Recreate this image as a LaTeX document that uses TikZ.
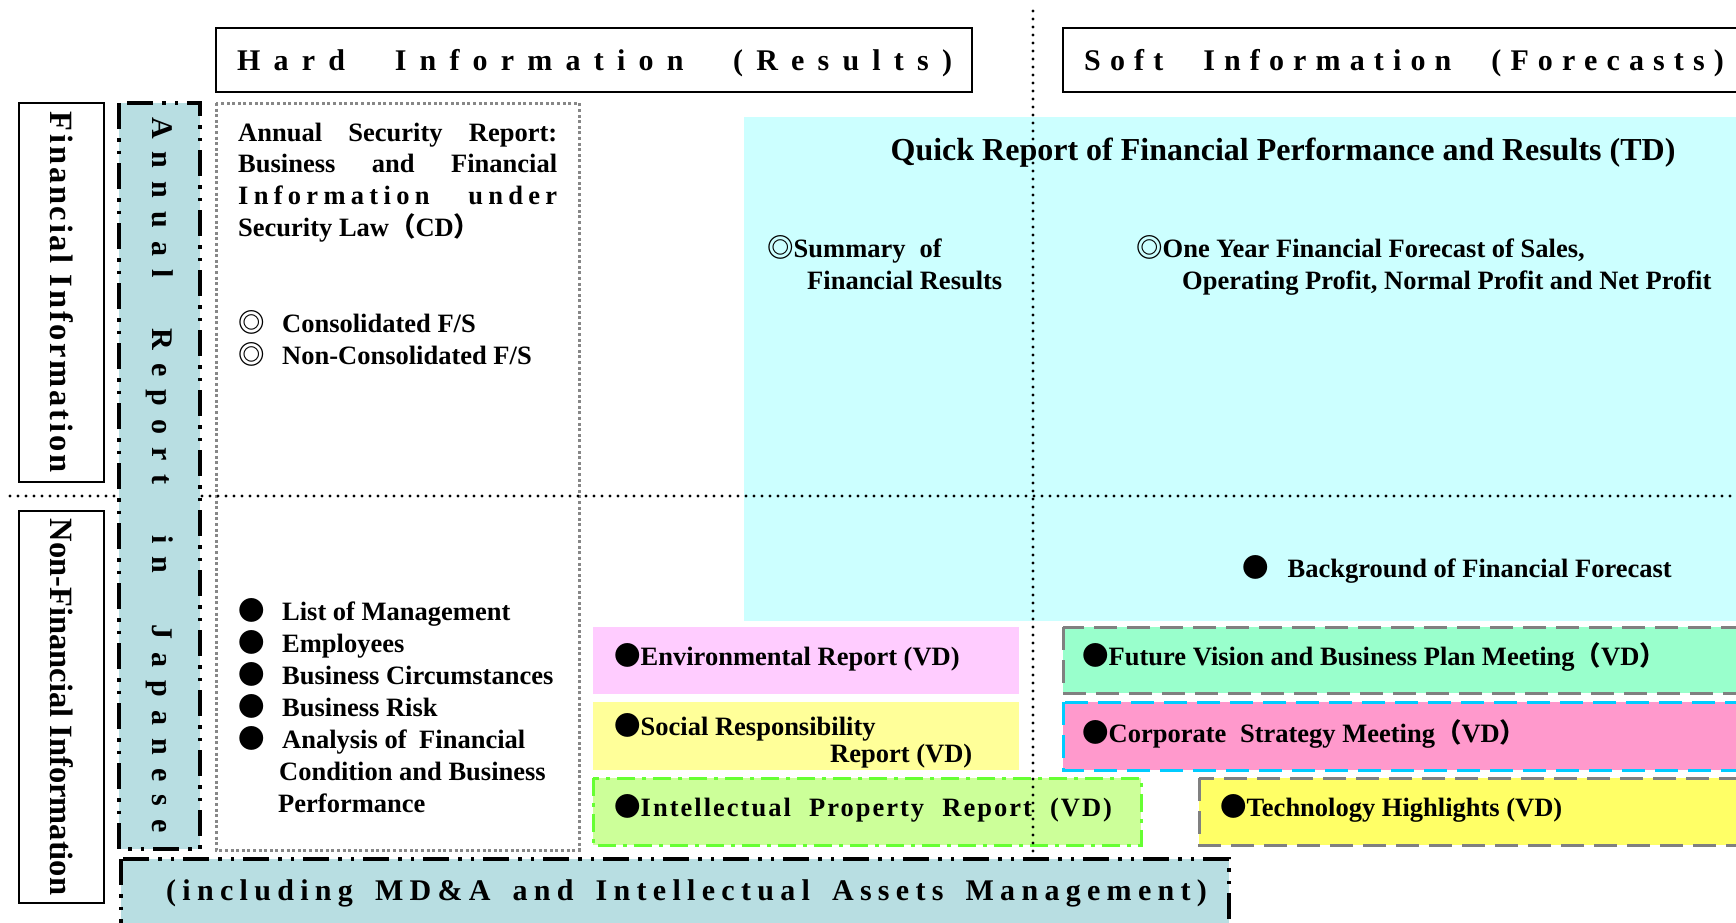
\documentclass[tikz,border=0pt]{standalone}
\usepackage{fontspec}
\setmainfont{Liberation Serif}
\newfontfamily\cjk{Noto Sans CJK JP}
% letter-spaced variants of the serif face (each with its own spacing value)
\newfontfamily\hardsp{Liberation Serif}[LetterSpace=44,WordSpace=2.4]
\newfontfamily\softsp{Liberation Serif}[LetterSpace=30.5,WordSpace=2.4]
\newfontfamily\bandsp{Liberation Serif}[LetterSpace=43.5,WordSpace=2.5]
\newfontfamily\incsp{Liberation Serif}[LetterSpace=21,WordSpace=1.6]
\newfontfamily\ipsp{Liberation Serif}[LetterSpace=7.6,WordSpace=2.1]
\newfontfamily\asrsp{Liberation Serif}[LetterSpace=20]
\newfontfamily\finsp{Liberation Serif}[LetterSpace=8.5]
\newcommand\fsz[2]{\fontsize{#1}{#2}\selectfont}
\newcommand\bul{{\cjk ●}}
\newcommand\dbl{{\cjk ◎}}
\newcommand\lp{{\cjk （}}
\newcommand\rp{{\cjk ）}}

\definecolor{tealband}{RGB}{184,222,226}
\definecolor{quickcyan}{RGB}{204,255,255}
\definecolor{envpink}{RGB}{255,204,255}
\definecolor{socyellow}{RGB}{255,255,153}
\definecolor{ipgreen}{RGB}{204,255,153}
\definecolor{ipborder}{RGB}{102,255,51}
\definecolor{mintgreen}{RGB}{153,255,204}
\definecolor{corppink}{RGB}{255,153,204}
\definecolor{corpborder}{RGB}{0,204,255}
\definecolor{techyellow}{RGB}{255,255,102}
\definecolor{dashgray}{RGB}{128,128,128}
\definecolor{dotgray}{RGB}{135,135,135}

\begin{document}
\begin{tikzpicture}[x=1pt,y=-1pt,
  txt/.style={anchor=base west, inner sep=0pt, font=\bfseries\fsz{26.5}{32}},
  headbox/.style={draw=black, line width=2.8pt},
  divider/.style={draw=black, line width=3.4pt, line cap=round, dash pattern=on 0pt off 8pt},
  grayframe/.style={draw=dotgray, line width=3pt, dash pattern=on 3pt off 2.6pt},
  banddash/.style={draw=black, line width=3.3pt, dash pattern=on 26pt off 9pt on 3.5pt off 9pt on 3.5pt off 9pt},
  ipline/.style={draw=ipborder, line width=3pt, dash pattern=on 18pt off 7pt on 4pt off 7pt},
  grayline/.style={line width=3pt, dash pattern=on 23pt off 10pt},
  vtext/.style={rotate=-90, inner sep=0pt}
]
\useasboundingbox (0,0) rectangle (1736,922);
\clip (0,0) rectangle (1736,922);

% coloured areas
\fill[quickcyan] (744,117) rectangle (1745,621);
\fill[envpink] (593,627) rectangle (1019,694);
\fill[socyellow] (593,702) rectangle (1019,770);
\filldraw[fill=ipgreen, ipline] (593,778) rectangle (1141,845);
\filldraw[fill=mintgreen, draw=dashgray, grayline] (1063,627) rectangle (1750,693);
\filldraw[fill=corppink, draw=corpborder, grayline] (1063,702) rectangle (1750,770);
\filldraw[fill=techyellow, draw=dashgray, grayline] (1199,778) rectangle (1750,845);

% security report frame
\draw[grayframe] (216,103) rectangle (579,850);

% quadrant dividers
\draw[divider] (10,496) -- (1745,496);
\draw[divider] (1033,11) -- (1033,925);

% annual report bands
\filldraw[fill=tealband, banddash] (119,103) rectangle (200,849);
\filldraw[fill=tealband, banddash] (121,859) rectangle (1229,935);

% header and side boxes
\draw[headbox] (216,28) rectangle (972,92);
\draw[headbox] (1063,28) rectangle (1760,92);
\draw[headbox] (19,103) rectangle (104,482);
\draw[headbox] (19,511) rectangle (104,903);

% headers
\node[txt, font=\hardsp\bfseries\fsz{30}{36}] (hard) at (237,70) {Hard Information (Results)};
\node[txt, font=\softsp\bfseries\fsz{30}{36}] (soft) at (1084,70) {Soft Information (Forecasts)};

% vertical labels
\node[vtext, font=\finsp\bfseries\fsz{32.5}{38}] (fin) at (62,292) {Financial Information};
\node[vtext, font=\bfseries\fsz{32.5}{38}] (nonfin) at (62,707) {Non-Financial Information};
\node[vtext, anchor=west, font=\bandsp\bfseries\fsz{30}{36}] (annual) at (160,117) {Annual Report in Japanese};

% bottom band label
\node[txt, font=\incsp\bfseries\fsz{30}{36}] (incl) at (166,900) {(including MD\&A and Intellectual Assets Management)};

% annual security report
\node[txt] (asr1) at (238,141) {\makebox[319pt][s]{Annual Security Report:}};
\node[txt] (asr2) at (238,172) {\makebox[319pt][s]{Business and Financial}};
\node[txt] (asr3) at (238,204) {\makebox[319pt][s]{\asrsp Information under}};
\node[txt] (asr4) at (238,236) {Security Law\lp CD\rp};
\node[txt] (cons) at (238,332) {\makebox[44pt][l]{\dbl}Consolidated F/S};
\node[txt] (ncons) at (238,364) {\makebox[44pt][l]{\dbl}Non-Consolidated F/S};

% non-financial items
\node[txt] (mgmt) at (238,620) {\makebox[44pt][l]{\bul}List of Management};
\node[txt] (empl) at (238,652) {\makebox[44pt][l]{\bul}Employees};
\node[txt] (circ) at (238,684) {\makebox[44pt][l]{\bul}Business Circumstances};
\node[txt] (risk) at (238,716) {\makebox[44pt][l]{\bul}Business Risk};
\node[txt] (mdna1) at (238,748) {\makebox[44pt][l]{\bul}Analysis of\hspace{6pt} Financial};
\node[txt] (mdna2) at (279,780) {Condition and Business};
\node[txt] (mdna3) at (278,812) {Performance};

% quick report
\node[txt, anchor=base, font=\bfseries\fsz{32}{38}] (quick) at (1283,160) {Quick Report of Financial Performance and Results (TD)};
\node[txt] (sum1) at (767,257) {\dbl Summary\hspace{14pt}of};
\node[txt] (sum2) at (807,289) {Financial Results};
\node[txt] (fc1) at (1136,257) {\dbl One Year Financial Forecast of Sales,};
\node[txt] (fc2) at (1182,289) {Operating Profit, Normal Profit and Net Profit};
\node[txt] (bgfc) at (1242,577) {\bul\hspace{19pt}Background of Financial Forecast};

% voluntary disclosures
\node[txt] (env) at (614,665) {\bul Environmental Report (VD)};
\node[txt] (soc1) at (614,735) {\bul Social Responsibility};
\node[txt] (soc2) at (830,762) {Report (VD)};
\node[txt] (ip) at (614,816) {\bul{\ipsp Intellectual Property Report (VD)}};
\node[txt] (vision) at (1082,665) {\bul Future Vision and Business Plan Meeting\lp VD\rp};
\node[txt] (corp) at (1082,742) {\bul Corporate\hspace{7pt} Strategy Meeting\lp VD\rp};
\node[txt] (tech) at (1220,816) {\bul Technology Highlights (VD)};
\end{tikzpicture}
\end{document}
